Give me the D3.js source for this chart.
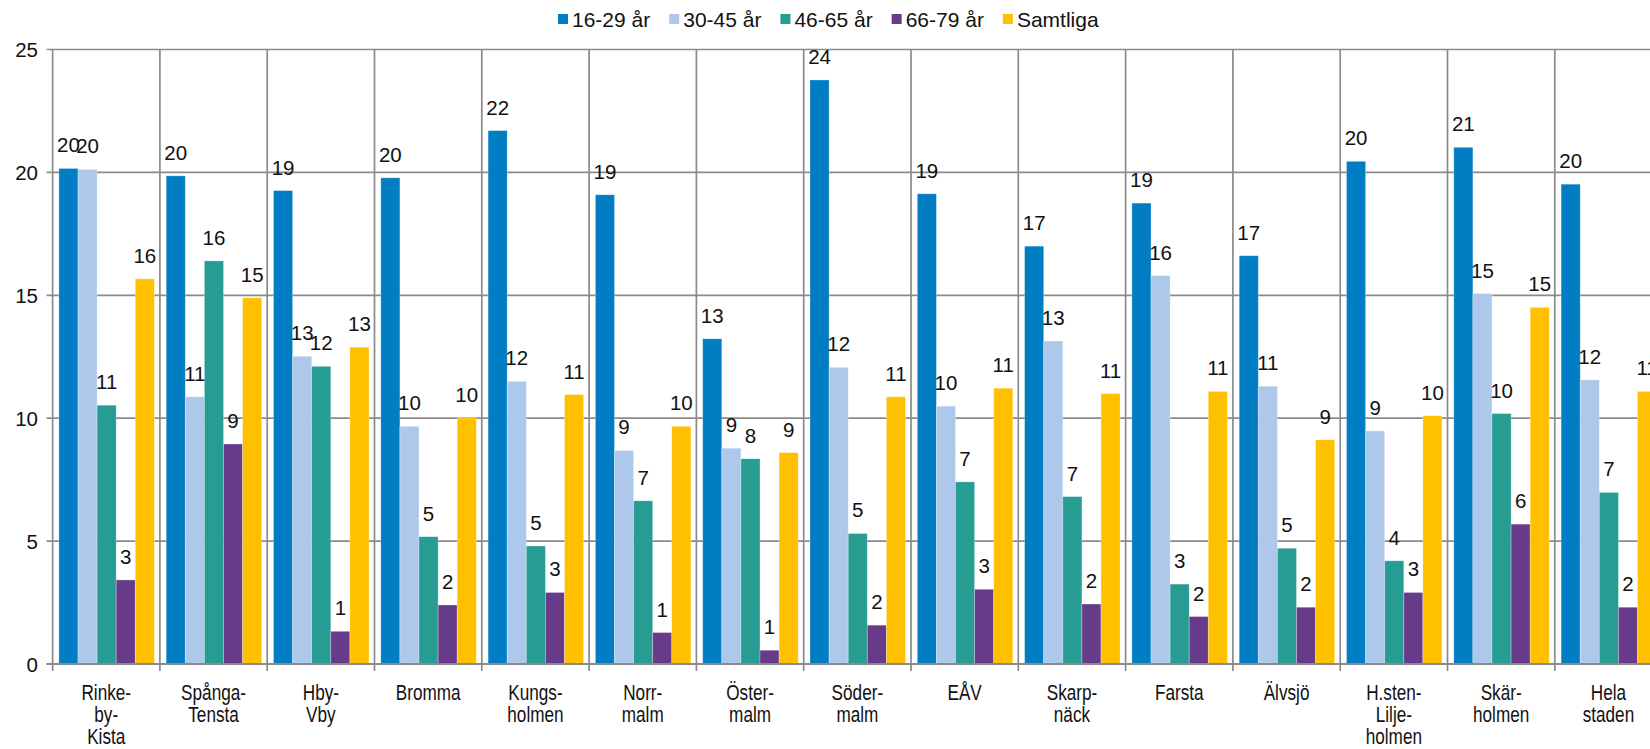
<!DOCTYPE html>
<html><head><meta charset="utf-8">
<script src="https://cdn.jsdelivr.net/npm/d3@7"></script>
<style>
html,body{margin:0;padding:0;background:#fff;overflow:hidden}
text{font-family:"Liberation Sans",Arial,sans-serif;fill:#111}
.cat{font-family:"Liberation Sans Narrow","Arial Narrow","Liberation Sans",sans-serif}
</style></head>
<body>
<svg id="chart" width="1650" height="749"></svg>
<script>
const categories = [["Rinke-","by-","Kista"],["Spånga-","Tensta"],["Hby-","Vby"],["Bromma"],["Kungs-","holmen"],["Norr-","malm"],["Öster-","malm"],["Söder-","malm"],["EÅV"],["Skarp-","näck"],["Farsta"],["Älvsjö"],["H.sten-","Lilje-","holmen"],["Skär-","holmen"],["Hela","staden"]];
const seriesNames = ["16-29 år","30-45 år","46-65 år","66-79 år","Samtliga"];
const s16_29 = [20.16,19.86,19.26,19.78,21.7,19.09,13.23,23.76,19.13,17.0,18.75,16.61,20.45,21.02,19.52];
const s30_45 = [20.12,10.87,12.52,9.67,11.5,8.69,8.78,12.07,10.49,13.14,15.8,11.3,9.48,15.07,11.56];
const s46_65 = [10.53,16.40,12.11,5.18,4.8,6.64,8.35,5.31,7.41,6.81,3.25,4.71,4.2,10.19,6.98];
const s66_79 = [3.42,8.95,1.33,2.4,2.91,1.28,0.56,1.58,3.04,2.44,1.93,2.31,2.91,5.69,2.31];
const samtliga = [15.67,14.9,12.89,10.02,10.96,9.67,8.6,10.87,11.22,11.0,11.09,9.12,10.1,14.51,11.09];
const yTicks = [0,5,10,15,20,25];
const colors = ["#007DC3","#ADC8EA","#279C92","#673A8A","#FFC000"];

(function(){
const series = [s16_29,s30_45,s46_65,s66_79,samtliga];
const svg = d3.select("#chart");
const catKeys = categories.map(c=>c.join(""));
const pLeft = 52.6, step = 107.3, pTop = 49.5, pBottom = 664;
const x = d3.scaleBand().domain(catKeys).range([pLeft, pLeft+step*catKeys.length]).padding(0);
const xs = d3.scaleBand().domain(seriesNames).range([6.3, step-5.5]).padding(0);
const y = d3.scaleLinear().domain([0,25]).range([pBottom, pTop]);
const grid = "#8a8a8a";

svg.append("g").selectAll("line").data(yTicks).join("line")
  .attr("x1", pLeft-6).attr("x2", 1650).attr("y1", d=>y(d)).attr("y2", d=>y(d))
  .attr("stroke", grid).attr("stroke-width", 1.7);
const bounds = catKeys.map(k=>x(k)).concat([x(catKeys[catKeys.length-1])+step]);
svg.append("g").selectAll("line").data(bounds).join("line")
  .attr("x1", d=>d).attr("x2", d=>d).attr("y1", pTop).attr("y2", pBottom+7)
  .attr("stroke", grid).attr("stroke-width", 1.7);

svg.append("g").selectAll("text").data(yTicks).join("text")
  .attr("x", 38).attr("y", d=>y(d)+7.5).attr("text-anchor","end")
  .style("font-size","20.5px").text(d=>d);

const groups = svg.append("g").selectAll("g").data(catKeys).join("g")
  .attr("transform", k=>`translate(${x(k)},0)`);
groups.each(function(k,i){
  const g = d3.select(this);
  seriesNames.forEach((s,j)=>{
    const v = series[j][i];
    g.append("rect").attr("x", xs(s)).attr("width", xs.bandwidth())
      .attr("y", y(v)).attr("height", y(0)-y(v)).attr("fill", colors[j])
      .attr("stroke","#ffffff").attr("stroke-opacity",0.35).attr("stroke-width",0.8);
  });
});
groups.each(function(k,i){
  const g = d3.select(this);
  seriesNames.forEach((s,j)=>{
    const v = series[j][i];
    g.append("text").attr("x", xs(s)+xs.bandwidth()/2).attr("y", y(v)-16)
      .attr("text-anchor","middle").style("font-size","20.5px").text(Math.round(v));
  });
});

svg.append("line").attr("x1", pLeft-6).attr("x2",1650).attr("y1",pBottom).attr("y2",pBottom)
  .attr("stroke",grid).attr("stroke-width",1.8);

const cl = svg.append("g").selectAll("text").data(categories).join("text")
  .attr("class","cat").attr("text-anchor","middle")
  .attr("transform",(c,i)=>`translate(${x(catKeys[i])+step/2},0) scale(0.78,1)`)
  .attr("x",0).attr("y",700).style("font-size","22px");
cl.each(function(c){
  const t = d3.select(this);
  c.forEach((line,li)=>{
    t.append("tspan").attr("x", 0).attr("dy", li===0?0:22).text(line);
  });
});

const leg = svg.append("g");
let lx = 558;
seriesNames.forEach((s,j)=>{
  leg.append("rect").attr("x",lx).attr("y",14).attr("width",10).attr("height",10).attr("fill",colors[j]);
  const t = leg.append("text").attr("x",lx+14).attr("y",26.5).style("font-size","21px").text(s);
  lx += 14 + t.node().getComputedTextLength() + 19;
});
})();
</script>
</body></html>
